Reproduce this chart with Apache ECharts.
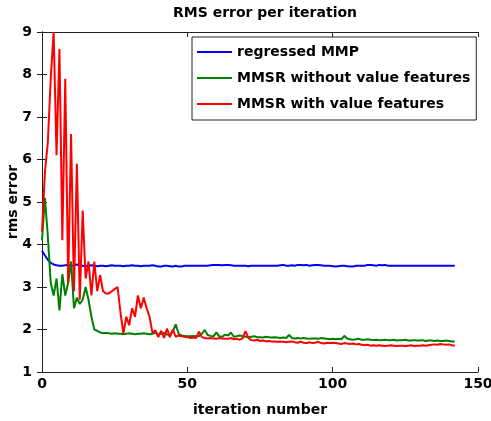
<!DOCTYPE html>
<html>
<head>
<meta charset="utf-8">
<script src="https://cdn.jsdelivr.net/npm/echarts@6/dist/echarts.min.js"></script>
<style>
  html, body { margin: 0; padding: 0; background: #fff; }
  #main { width: 491px; height: 421px; }
</style>
</head>
<body>
<div id="main"></div>
<script>
// rms error per iteration, iterations 0..142
var seriesNames = ['regressed MMP', 'MMSR without value features', 'MMSR with value features'];
var seriesColors = ['#0000ff', '#008000', '#ff0000'];
var xTicks = [0, 50, 100, 150];
var yTicks = [1, 2, 3, 4, 5, 6, 7, 8, 9];

var regressedMMP = [
  3.85,3.74,3.64,3.57,3.53,3.51,3.50,3.50,3.51,3.52,3.50,3.51,3.53,3.50,3.50,3.49,3.50,3.51,3.50,3.49,
  3.50,3.50,3.49,3.50,3.51,3.50,3.50,3.50,3.49,3.50,3.50,3.51,3.50,3.50,3.49,3.50,3.50,3.50,3.51,3.50,
  3.48,3.48,3.50,3.50,3.49,3.48,3.50,3.48,3.48,3.50,3.50,3.50,3.50,3.50,3.50,3.50,3.50,3.50,3.51,3.52,
  3.52,3.52,3.51,3.52,3.52,3.51,3.50,3.50,3.50,3.50,3.50,3.49,3.50,3.50,3.50,3.50,3.50,3.50,3.50,3.50,
  3.50,3.50,3.51,3.52,3.50,3.50,3.51,3.50,3.52,3.52,3.51,3.52,3.50,3.51,3.52,3.52,3.51,3.50,3.50,3.50,
  3.49,3.48,3.49,3.50,3.50,3.49,3.48,3.48,3.50,3.50,3.50,3.50,3.52,3.52,3.51,3.50,3.52,3.51,3.52,3.50,
  3.50,3.50,3.50,3.50,3.50,3.50,3.50,3.50,3.50,3.50,3.50,3.50,3.50,3.50,3.50,3.50,3.50,3.50,3.50,3.50,
  3.50,3.50,3.50
];
var mmsrNoValue = [
  4.10,5.10,4.20,3.10,2.80,3.20,2.45,3.30,2.80,3.10,3.60,2.50,2.75,2.60,2.70,3.00,2.70,2.30,2.00,1.97,
  1.93,1.92,1.92,1.91,1.90,1.91,1.90,1.90,1.89,1.90,1.91,1.90,1.89,1.90,1.90,1.91,1.90,1.89,1.90,1.92,
  1.88,1.90,1.92,1.88,1.87,1.95,2.12,1.90,1.86,1.85,1.84,1.84,1.85,1.84,1.84,1.90,1.99,1.87,1.85,1.84,
  1.93,1.84,1.83,1.88,1.86,1.93,1.83,1.84,1.86,1.84,1.83,1.82,1.83,1.84,1.82,1.82,1.81,1.83,1.82,1.81,
  1.82,1.81,1.80,1.81,1.80,1.87,1.80,1.79,1.80,1.79,1.80,1.79,1.78,1.79,1.79,1.78,1.80,1.79,1.78,1.77,
  1.78,1.77,1.78,1.77,1.85,1.79,1.77,1.76,1.77,1.78,1.76,1.76,1.77,1.76,1.75,1.76,1.75,1.75,1.76,1.75,
  1.75,1.76,1.74,1.75,1.75,1.76,1.74,1.74,1.75,1.74,1.74,1.75,1.73,1.74,1.74,1.73,1.74,1.73,1.73,1.74,
  1.73,1.72,1.72
];
var mmsrValue = [
  4.30,5.70,6.40,7.90,9.00,6.10,8.60,4.10,7.90,3.10,6.60,2.90,5.90,2.70,4.80,3.20,3.60,2.80,3.60,2.90,
  3.28,2.90,2.85,2.85,2.90,2.95,3.00,2.40,1.90,2.30,2.10,2.50,2.30,2.80,2.50,2.75,2.50,2.30,1.92,1.98,
  1.82,1.97,1.80,2.02,1.82,2.00,1.83,1.86,1.84,1.83,1.82,1.80,1.81,1.80,1.95,1.82,1.80,1.79,1.80,1.79,
  1.78,1.80,1.79,1.78,1.78,1.80,1.77,1.78,1.76,1.79,1.96,1.80,1.75,1.74,1.76,1.73,1.74,1.72,1.73,1.72,
  1.72,1.71,1.72,1.71,1.70,1.71,1.72,1.70,1.69,1.71,1.69,1.68,1.70,1.68,1.69,1.71,1.68,1.67,1.69,1.68,
  1.69,1.68,1.67,1.66,1.68,1.67,1.66,1.67,1.65,1.66,1.64,1.63,1.64,1.62,1.63,1.62,1.63,1.62,1.61,1.62,
  1.63,1.62,1.61,1.62,1.62,1.61,1.62,1.63,1.61,1.62,1.62,1.63,1.62,1.63,1.64,1.65,1.64,1.66,1.65,1.64,
  1.65,1.63,1.62
];

function withIndex(arr) {
  return arr.map(function (v, i) { return [i, v]; });
}

var fontFam = '"DejaVu Sans", sans-serif';
var txt = { fontFamily: fontFam, fontSize: 14, fontWeight: 'bold', color: '#000' };
var chart = echarts.init(document.getElementById('main'));

var option = {
  backgroundColor: '#fff',
  animation: false,
  title: {
    text: 'RMS error per iteration',
    left: 260, top: 1, textAlign: 'center',
    textStyle: txt
  },
  grid: { left: 42, right: 13, top: 32, bottom: 49, outerBoundsMode: 'none' },
  legend: {
    orient: 'vertical',
    left: 192, top: 37,
    padding: [7, 6, 8, 5],
    itemGap: 10,
    itemWidth: 35, itemHeight: 2,
    icon: 'rect',
    borderColor: '#222', borderWidth: 1,
    backgroundColor: '#fff',
    textStyle: { fontFamily: fontFam, fontSize: 14, fontWeight: 'bold', color: '#000', lineHeight: 16 },
    data: seriesNames
  },
  xAxis: [{
    type: 'value', min: xTicks[0], max: xTicks[xTicks.length - 1], interval: 50,
    name: 'iteration number', nameLocation: 'middle', nameGap: 31, nameMoveOverlap: false,
    nameTextStyle: txt,
    axisLine: { lineStyle: { color: '#222', width: 1 } },
    axisTick: { inside: true, length: 5, lineStyle: { color: '#222' } },
    axisLabel: { fontFamily: fontFam, fontSize: 14, fontWeight: 'bold', color: '#000', margin: 5 },
    splitLine: { show: false }
  }, {
    type: 'value', position: 'top', min: xTicks[0], max: xTicks[xTicks.length - 1], interval: 50,
    axisLine: { lineStyle: { color: '#222', width: 1 } },
    axisTick: { inside: true, length: 5, lineStyle: { color: '#222' } },
    axisLabel: { show: false },
    splitLine: { show: false }
  }],
  yAxis: [{
    type: 'value', min: yTicks[0], max: yTicks[yTicks.length - 1], interval: 1,
    name: 'rms error', nameLocation: 'middle', nameGap: 22, nameMoveOverlap: false,
    nameTextStyle: txt,
    axisLine: { show: true, lineStyle: { color: '#222', width: 1 } },
    axisTick: { show: true, inside: true, length: 5, lineStyle: { color: '#222' } },
    axisLabel: { fontFamily: fontFam, fontSize: 14, fontWeight: 'bold', color: '#000', margin: 10 },
    splitLine: { show: false }
  }, {
    type: 'value', position: 'right', min: yTicks[0], max: yTicks[yTicks.length - 1], interval: 1,
    axisLine: { show: true, lineStyle: { color: '#222', width: 1 } },
    axisTick: { show: true, inside: true, length: 5, lineStyle: { color: '#222' } },
    axisLabel: { show: false },
    splitLine: { show: false }
  }],
  series: [
    { name: seriesNames[0], type: 'line', data: withIndex(regressedMMP), color: seriesColors[0],
      showSymbol: false, lineStyle: { width: 2 }, z: 3 },
    { name: seriesNames[1], type: 'line', data: withIndex(mmsrNoValue), color: seriesColors[1],
      showSymbol: false, lineStyle: { width: 2 }, z: 4 },
    { name: seriesNames[2], type: 'line', data: withIndex(mmsrValue), color: seriesColors[2],
      showSymbol: false, lineStyle: { width: 2 }, z: 5 }
  ]
};
chart.setOption(option);
</script>
</body>
</html>
